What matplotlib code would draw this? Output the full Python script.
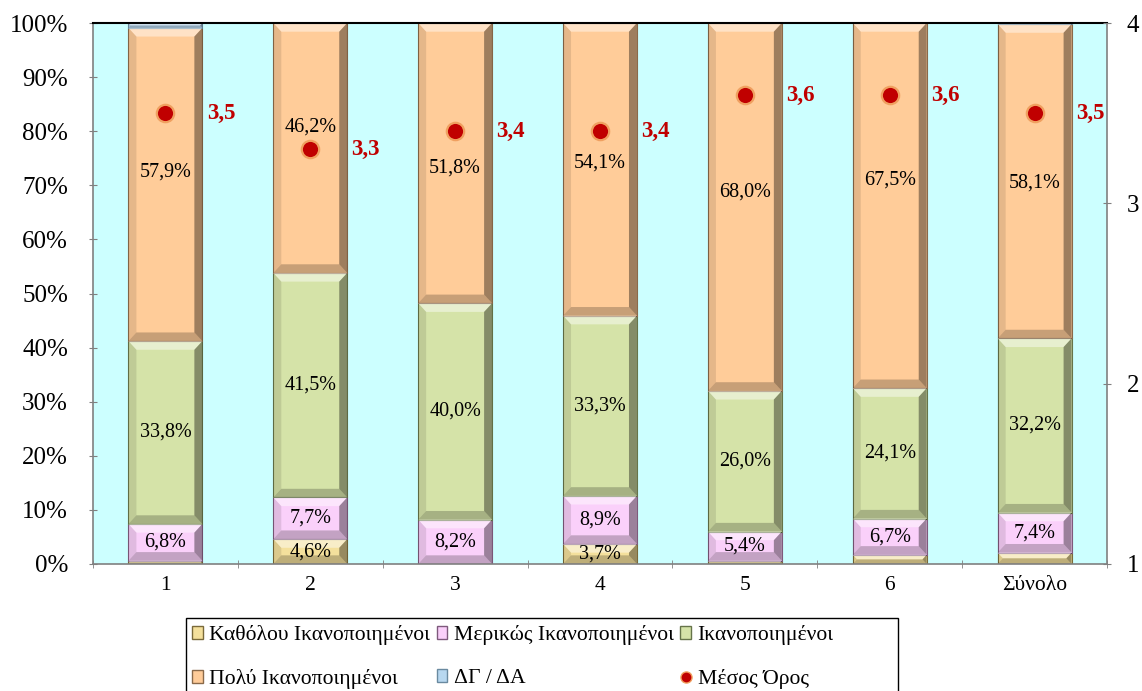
import matplotlib
matplotlib.use("Agg")
import matplotlib.pyplot as plt
from matplotlib.patches import Patch, Polygon, Rectangle
from matplotlib.lines import Line2D
import numpy as np

plt.rcParams['font.family'] = ['Liberation Serif', 'DejaVu Serif']

categories = ['1', '2', '3', '4', '5', '6', 'Σύνολο']
kathlou = [0.6, 4.6, 0.0, 3.7, 0.6, 1.7, 2.1]
merikos = [6.8, 7.7, 8.2, 8.9, 5.4, 6.7, 7.4]
ikanop = [33.8, 41.5, 40.0, 33.3, 26.0, 24.1, 32.2]
poly = [57.9, 46.2, 51.8, 54.1, 68.0, 67.5, 58.1]
dgda = [0.9, 0.0, 0.0, 0.0, 0.0, 0.0, 0.2]
mean = [3.5, 3.3, 3.4, 3.4, 3.6, 3.6, 3.5]
poly_label_y = [72.5, 80.8, 73.2, 74.1, 68.8, 71.0, 70.4]

series = [
    ('Καθόλου Ικανοποιημένοι', kathlou, '#F4E09C', '#7A6A3A'),
    ('Μερικώς Ικανοποιημένοι', merikos, '#FAD0FA', '#7E5A7C'),
    ('Ικανοποιημένοι', ikanop, '#D5E3A8', '#66744A'),
    ('Πολύ Ικανοποιημένοι', poly, '#FFCC99', '#8A6A4A'),
    ('ΔΓ / ΔΑ', dgda, '#B8D8F0', '#6A8AA0'),
]

fig = plt.figure(figsize=(11.42, 6.91), dpi=100)
ax = fig.add_axes([0.0814, 0.1838, 0.8880, 0.7829])
ax.set_facecolor('#CCFFFF')
ax.set_xlim(-0.5, len(categories) - 0.5)
ax.set_ylim(0, 100)
x = np.arange(len(categories))
w = 0.51
bottom = np.zeros(len(categories))
handles = {}


def bevel(rect):
    x0, y0 = rect.get_x(), rect.get_y()
    ww, hh = rect.get_width(), rect.get_height()
    if hh <= 0:
        return
    x1, y1 = x0 + ww, y0 + hh
    bx = 0.055
    by = min(1.6, hh / 2)
    bxx = bx * by / 1.6
    parts = [
        ([(x0, y1), (x1, y1), (x1 - bxx, y1 - by), (x0 + bxx, y1 - by)], 'white', 0.45),
        ([(x0, y0), (x1, y0), (x1 - bxx, y0 + by), (x0 + bxx, y0 + by)], 'black', 0.22),
        ([(x0, y0), (x0, y1), (x0 + bxx, y1 - by), (x0 + bxx, y0 + by)], 'black', 0.10),
        ([(x1, y0), (x1, y1), (x1 - bxx, y1 - by), (x1 - bxx, y0 + by)], 'black', 0.38),
    ]
    for pts, c, a in parts:
        ax.add_patch(Polygon(pts, closed=True, facecolor=c, alpha=a, edgecolor='none', zorder=2.1))


for name, vals, fc, ec in series:
    v = np.array(vals)
    bars = ax.bar(x, v, w, bottom=bottom, color=fc, edgecolor=ec, linewidth=0.8, zorder=2)
    for r in bars:
        bevel(r)
    handles[name] = Patch(facecolor=fc, edgecolor=ec, label=name)
    if name in ('Μερικώς Ικανοποιημένοι', 'Ικανοποιημένοι', 'Καθόλου Ικανοποιημένοι'):
        for i, val in enumerate(v):
            if val >= 3:
                ax.text(x[i], bottom[i] + val / 2, f"{val:.1f}".replace('.', ',') + '%',
                        ha='center', va='center', fontsize=14.5, zorder=4)
    if name == 'Πολύ Ικανοποιημένοι':
        for i, val in enumerate(v):
            ax.text(x[i], poly_label_y[i], f"{val:.1f}".replace('.', ',') + '%',
                    ha='center', va='center', fontsize=14.5, zorder=4)
    bottom += v

ax.set_yticks(np.arange(0, 101, 10))
ax.set_yticklabels([f"{t}%" for t in range(0, 101, 10)], fontsize=18)
ax.set_xticks(x)
ax.set_xticklabels(categories, fontsize=15.5)
ax.tick_params(axis='x', length=0, pad=9)
ax.set_xticks(np.arange(-0.5, len(categories), 1), minor=True)
ax.tick_params(axis='x', which='minor', length=6, direction='inout', color='#808080')
ax.tick_params(axis='y', length=6, direction='inout', color='#808080', pad=15)
for s in ('left', 'bottom', 'right'):
    ax.spines[s].set_color('#808080')
    ax.spines[s].set_linewidth(1.2)
ax.spines['top'].set_color('black')
ax.spines['top'].set_linewidth(1.5)

ax2 = ax.twinx()
ax2.set_ylim(1, 4)
ax2.set_yticks([1, 2, 3, 4])
ax2.set_yticklabels(['1', '2', '3', '4'], fontsize=18)
ax2.tick_params(axis='y', length=6, direction='inout', color='#808080', pad=11)
for s in ax2.spines.values():
    s.set_visible(False)
ax2.plot(x, mean, linestyle='none', marker='o', markersize=12.5,
         markerfacecolor='#C00000', markeredgecolor='#F0A060', markeredgewidth=1.6, zorder=5)
for i, m in enumerate(mean):
    ax2.text(x[i] + 0.285, m, f"{m:.1f}".replace('.', ','), color='#C00000',
             fontweight='bold', fontsize=16.5, ha='left', va='center')

mean_handle = Line2D([], [], linestyle='none', marker='o', markersize=8,
                     markerfacecolor='#C00000', markeredgecolor='#F0A060', label='Μέσος Όρος')
order = [handles['Καθόλου Ικανοποιημένοι'], handles['Πολύ Ικανοποιημένοι'],
         handles['Μερικώς Ικανοποιημένοι'], handles['ΔΓ / ΔΑ'],
         handles['Ικανοποιημένοι'], mean_handle]

# legend frame (box extends past the bottom edge, as in the reference)
fig.patches.append(Rectangle((0.1629, -0.05), 0.6235, 0.1556, transform=fig.transFigure,
                             facecolor='white', edgecolor='black', linewidth=1.0, zorder=0))
leg = fig.legend(handles=order, ncol=3, loc='upper left', bbox_to_anchor=(0.168, 0.095),
                 fontsize=15.6, frameon=False,
                 handlelength=0.5, handleheight=0.5, handletextpad=0.3, columnspacing=0.3,
                 labelspacing=1.1, borderpad=0, borderaxespad=0)

fig.savefig('out.png', dpi=100)
